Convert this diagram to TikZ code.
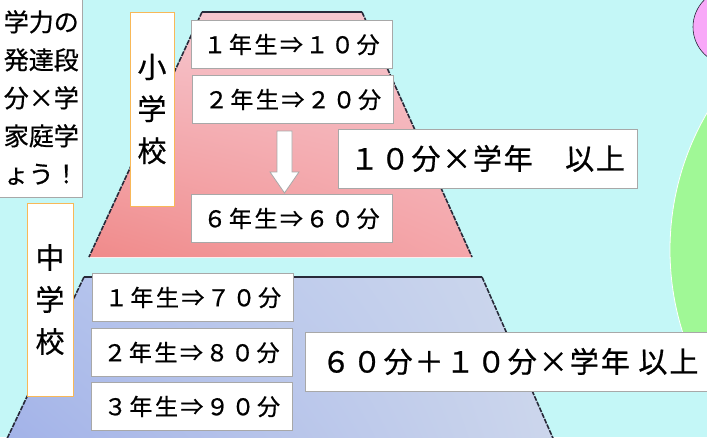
\documentclass[tikz,border=0pt]{standalone}
\usepackage{fontspec}
\usetikzlibrary{shadings}
\setmainfont{Noto Sans CJK JP}[FakeBold=0.6]
\newfontfamily\jpg[LetterSpace=11,FakeBold=0.8]{Noto Sans CJK JP}
\newfontfamily\jpb[LetterSpace=6,FakeBold=0.8]{Noto Sans CJK JP}
\newfontfamily\jpc[LetterSpace=7,FakeBold=0.8]{Noto Sans CJK JP}
\definecolor{bgc}{RGB}{196,247,247}
\definecolor{pkTL}{RGB}{246,198,206}
\definecolor{pkTR}{RGB}{246,200,208}
\definecolor{pkBL}{RGB}{240,138,138}
\definecolor{pkBR}{RGB}{244,166,170}
\definecolor{blTL}{RGB}{176,192,236}
\definecolor{blTR}{RGB}{206,216,236}
\definecolor{blBL}{RGB}{162,178,232}
\definecolor{blBR}{RGB}{204,214,236}
\definecolor{edgec}{RGB}{40,42,58}
\definecolor{boxline}{RGB}{168,168,168}
\definecolor{orangeline}{RGB}{248,184,88}
\definecolor{violetc}{RGB}{248,168,248}
\definecolor{greenc}{RGB}{160,248,150}
\begin{document}
\begin{tikzpicture}[x=1pt,y=-1pt,
  gbox/.style={draw=boxline,fill=white,minimum width=201pt,minimum height=48pt,inner sep=0pt,
    font=\fontsize{23}{26}\selectfont\jpg},
  bigbox/.style={draw=boxline,fill=white,minimum height=59pt,inner sep=0pt},
  vbox/.style={draw=orangeline,fill=white,inner sep=0pt,align=center,
    font=\fontsize{29}{42}\selectfont},
  sideedge/.style={draw=edgec,line width=1.6pt,dash pattern=on 5pt off 1.2pt},
  topedge/.style={draw=edgec,line width=2pt}]
\useasboundingbox (0,0) rectangle (707,437);
\clip (0,0) rectangle (707,437);
\fill[bgc] (0,0) rectangle (707,437);
% circles
\draw[edgec,line width=0.6pt,fill=violetc] (731,27) circle[radius=38pt];
\draw[white,line width=0.8pt,fill=greenc] (942,250) circle[radius=272pt];
% pink trapezoid
\shade[upper left=pkTL,upper right=pkTR,lower left=pkBL,lower right=pkBR]
  (202,12) -- (362,12) -- (472,257) -- (89,257) -- cycle;
\draw[white!85!pkBL,line width=1pt] (89,257) -- (472,257);
\path[sideedge] (202,12) -- (89,257);
\path[sideedge] (362,12) -- (472,257);
\path[topedge] (202,12) -- (362,12);
% blue trapezoid
\shade[upper left=blTL,upper right=blTR,lower left=blBL,lower right=blBR]
  (84,277) -- (482,277) -- (556,445) -- (4,445) -- cycle;
\path[sideedge] (84,277) -- (4,445);
\path[sideedge] (482,277) -- (556,445);
\path[topedge] (84,277) -- (482,277);
% left text box
\node[draw=boxline,fill=white,minimum width=84pt,minimum height=199pt,inner sep=0pt] (intro) at (40,98) {};
\node[anchor=north east,align=right,inner sep=0pt,font=\fontsize{25}{38}\selectfont] (introtext) at (79,10)
  {学力の\\発達段\\分×学\\家庭学\\ょう！};
% labels
\node[vbox,minimum width=44pt,minimum height=194pt] (sho) at (152,109) {小\\学\\校};
\node[vbox,minimum width=46pt,minimum height=193pt] (chu) at (50,299.5) {中\\学\\校};
% elementary grades
\node[gbox] (e1) at (291.5,44.5) {１年生⇒１０分};
\node[gbox] (e2) at (293,99.5) {２年生⇒２０分};
\node[gbox] (e6) at (291.5,218.5) {６年生⇒６０分};
\draw[boxline,fill=white,line width=0.8pt] (277,131) -- (292,131) -- (292,172) -- (299,172) -- (284.5,193) -- (270,172) -- (277,172) -- cycle;
\node[bigbox,minimum width=299pt,font=\fontsize{29}{34}\selectfont\jpb] (rule1) at (487.5,158.5) {１０分×学年　以上};
% middle grades
\node[gbox] (m1) at (193,297.5) {１年生⇒７０分};
\node[gbox] (m2) at (191.5,352.5) {２年生⇒８０分};
\node[gbox] (m3) at (192,406.5) {３年生⇒９０分};
\node[bigbox,minimum width=410pt,font=\fontsize{29}{34}\selectfont\jpc] (rule2) at (510,361.5) {６０分＋１０分×学年 以上};
\end{tikzpicture}
\end{document}
